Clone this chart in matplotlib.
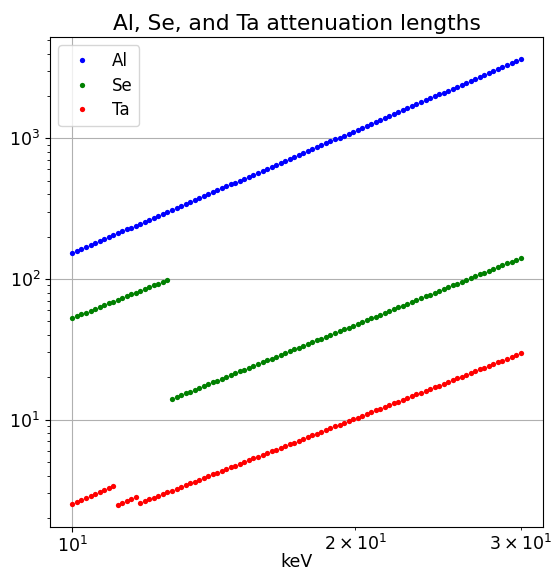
# attenuation lengths of Al, Se and Ta between 10 and 30 keV

import matplotlib
matplotlib.use('Agg')
import matplotlib.pyplot as plt

energy_kev = [
    10.000, 10.112, 10.225, 10.339, 10.454, 10.571, 10.689, 10.808, 10.929, 11.051,
    11.174, 11.298, 11.424, 11.552, 11.681, 11.811, 11.943, 12.076, 12.211, 12.347,
    12.485, 12.624, 12.765, 12.907, 13.051, 13.197, 13.344, 13.493, 13.643, 13.795,
    13.949, 14.105, 14.262, 14.421, 14.582, 14.745, 14.910, 15.076, 15.244, 15.414,
    15.587, 15.761, 15.936, 16.114, 16.294, 16.476, 16.660, 16.846, 17.034, 17.224,
    17.417, 17.611, 17.807, 18.006, 18.207, 18.410, 18.616, 18.823, 19.033, 19.246,
    19.461, 19.678, 19.897, 20.119, 20.344, 20.571, 20.801, 21.033, 21.267, 21.505,
    21.745, 21.987, 22.233, 22.481, 22.732, 22.985, 23.242, 23.501, 23.764, 24.029,
    24.297, 24.568, 24.842, 25.119, 25.400, 25.683, 25.970, 26.259, 26.552, 26.849,
    27.148, 27.451, 27.758, 28.067, 28.381, 28.697, 29.018, 29.341, 29.669, 30.000,
]

al_length = [
    153.1, 158.1, 163.2, 168.5, 174.0, 179.7, 185.5, 191.5, 197.8, 204.2,
    210.9, 217.7, 224.8, 232.1, 239.7, 247.5, 255.5, 263.8, 272.4, 281.3,
    290.4, 299.9, 309.7, 319.7, 330.1, 340.9, 352.0, 363.4, 375.2, 387.4,
    400.1, 413.2, 426.6, 440.5, 454.8, 469.6, 484.9, 500.7, 517.0, 533.8,
    551.2, 569.1, 587.6, 606.8, 626.5, 646.9, 668.0, 689.7, 712.2, 735.3,
    759.3, 784.0, 809.5, 835.9, 863.1, 891.2, 920.2, 950.1, 981.0, 1013,
    1046, 1080, 1115, 1151, 1189, 1228, 1268, 1309, 1351, 1395,
    1441, 1488, 1536, 1586, 1638, 1691, 1746, 1803, 1862, 1922,
    1985, 2050, 2116, 2185, 2256, 2330, 2406, 2484, 2565, 2648,
    2734, 2823, 2915, 3010, 3108, 3209, 3313, 3421, 3532, 3647,
]

se_length = [
    52.7, 54.3, 55.9, 57.6, 59.4, 61.2, 63.0, 64.9, 66.9, 68.9,
    71.0, 73.1, 75.3, 77.6, 79.9, 82.3, 84.8, 87.4, 90.0, 92.7,
    95.5, 98.4, 14.03, 14.46, 14.90, 15.35, 15.82, 16.30, 16.80, 17.31,
    17.83, 18.38, 18.94, 19.51, 20.10, 20.72, 21.35, 21.99, 22.66, 23.35,
    24.06, 24.80, 25.55, 26.32, 27.12, 27.95, 28.80, 29.67, 30.58, 31.51,
    32.46, 33.45, 34.47, 35.52, 36.60, 37.71, 38.86, 40.04, 41.26, 42.51,
    43.81, 45.14, 46.51, 47.92, 49.38, 50.88, 52.43, 54.03, 55.67, 57.36,
    59.11, 60.90, 62.75, 64.68, 66.64, 68.67, 70.76, 72.91, 75.13, 77.41,
    79.77, 82.19, 84.69, 87.27, 89.92, 92.66, 95.48, 98.38, 101.4, 104.5,
    107.6, 110.9, 114.3, 117.8, 121.3, 125.0, 128.8, 132.7, 136.8, 140.9,
]

ta_length = [
    2.50, 2.58, 2.67, 2.76, 2.85, 2.94, 3.04, 3.14, 3.24, 3.35,
    2.48, 2.56, 2.64, 2.73, 2.81, 2.55, 2.63, 2.71, 2.79, 2.87,
    2.95, 3.04, 3.13, 3.22, 3.31, 3.41, 3.52, 3.62, 3.73, 3.84,
    3.95, 4.07, 4.19, 4.31, 4.44, 4.57, 4.71, 4.85, 4.99, 5.14,
    5.29, 5.44, 5.60, 5.77, 5.94, 6.11, 6.30, 6.48, 6.68, 6.87,
    7.08, 7.29, 7.50, 7.72, 7.95, 8.18, 8.43, 8.68, 8.93, 9.20,
    9.47, 9.75, 10.04, 10.33, 10.64, 10.95, 11.28, 11.62, 11.96, 12.31,
    12.68, 13.05, 13.44, 13.84, 14.24, 14.67, 15.10, 15.55, 16.01, 16.48,
    16.97, 17.47, 17.99, 18.52, 19.07, 19.63, 20.21, 20.81, 21.42, 22.06,
    22.71, 23.38, 24.07, 24.78, 25.51, 26.27, 27.04, 27.84, 28.67, 29.51,
]

elements = ['Al', 'Se', 'Ta']
colors = ['b', 'g', 'r']


def main():
    plt.rcParams['font.size'] = 12.5

    fig = plt.figure(figsize=(5.52, 5.70), dpi=100)
    ax = fig.add_axes([0.0906, 0.0754, 0.8931, 0.8597])

    for name, lengths, c in zip(elements, [al_length, se_length, ta_length], colors):
        ax.plot(energy_kev, lengths, 'o', color=c, markersize=3.8,
                markeredgewidth=0, label=name)

    ax.set_xscale('log')
    ax.set_yscale('log')
    ax.grid(True)
    ax.tick_params(axis='x', which='both', pad=3)
    ax.set_xlabel('keV')
    ax.xaxis.set_label_coords(0.5, -0.052)
    ax.set_title('Al, Se, and Ta attenuation lengths', fontsize=15.7, pad=5)
    ax.legend(loc='upper left', fontsize=12, labelspacing=0.4)

    fig.savefig('out.png', dpi=100)


if __name__ == '__main__':
    main()
